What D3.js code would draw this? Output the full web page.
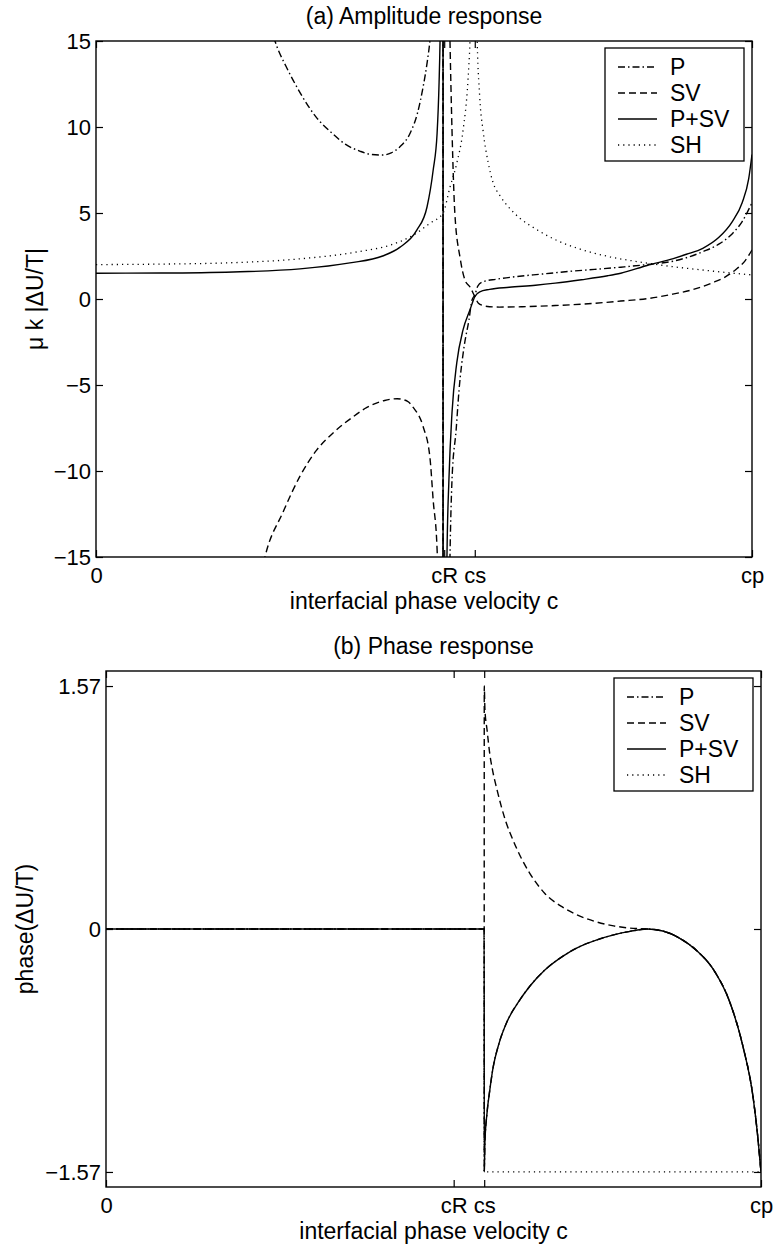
<!DOCTYPE html>
<html>
<head>
<meta charset="utf-8">
<style>
body { margin: 0; background: #fff; }
svg text { font-family: "Liberation Sans", Arial, Helvetica, sans-serif; fill: #000; }
</style>
</head>
<body>
<svg id="chart" width="777" height="1247"></svg>
<script src="https://cdn.jsdelivr.net/npm/d3@7/dist/d3.min.js"></script>
<script>
// velocities are in units of cp
var xTicks = [0, 0.5308, 0.5774, 1];
var xTickLabels = ["0", "cR", "cs", "cp"];
var seriesNames = ["P", "SV", "P+SV", "SH"];

var ampTicks = [-15, -10, -5, 0, 5, 10, 15];
var phaseTicks = [-1.5708, 0, 1.5708];
var phaseTickLabels = ["\u22121.57", "0", "1.57"];

// (a) amplitude  mu k |dU/T|  as [c, value]
var ampP = [[0.262, 16.0], [0.270, 15.3], [0.276, 14.65], [0.29, 13.5], [0.311, 12.0], [0.335, 10.6],
  [0.361, 9.6], [0.38, 9.0], [0.402, 8.6], [0.42, 8.4], [0.4375, 8.37], [0.45, 8.5], [0.463, 8.84],
  [0.479, 9.65], [0.49, 10.8], [0.4985, 12.3], [0.505, 13.8], [0.509, 15.0], [0.515, 18], [0.521, 24],
  [0.526, 40], [0.529, 90], [0.5291, -90], [0.531, -60], [0.535, -30], [0.5396, -15], [0.5427, -10.5],
  [0.549, -7.6], [0.5534, -5.3], [0.561, -2.8], [0.5686, -1.2], [0.5732, -0.06], [0.5777, 0.25],
  [0.582, 0.75], [0.59, 1.0], [0.61, 1.15], [0.64, 1.3], [0.68, 1.45], [0.72, 1.6], [0.76, 1.72],
  [0.80, 1.85], [0.84, 2.0], [0.88, 2.2], [0.90, 2.4], [0.925, 2.75], [0.95, 3.2], [0.97, 3.8],
  [0.985, 4.5], [1.0, 5.6]];

var ampSV = [[0.24, -18.5], [0.2576, -15], [0.285, -12.4], [0.311, -10.3], [0.336, -8.8], [0.361, -7.8],
  [0.39, -6.9], [0.413, -6.3], [0.44, -5.9], [0.459, -5.8], [0.475, -5.95], [0.4835, -6.3], [0.4985, -7.4],
  [0.509, -9.2], [0.514, -11.7], [0.52, -14.6], [0.524, -20], [0.527, -35], [0.529, -90], [0.5291, 90],
  [0.531, 45], [0.535, 25], [0.5396, 15], [0.5427, 9.8], [0.547, 5], [0.555, 2.4], [0.5625, 1.1],
  [0.570, 0.7], [0.5774, 0.15], [0.583, -0.25], [0.59, -0.38], [0.60, -0.45], [0.615, -0.47], [0.65, -0.45],
  [0.70, -0.38], [0.76, -0.25], [0.80, -0.12], [0.84, 0.02], [0.875, 0.25], [0.91, 0.55], [0.94, 0.95],
  [0.96, 1.3], [0.975, 1.7], [0.99, 2.25], [1.0, 2.85]];

var ampPSV = [[0, 1.5], [0.1, 1.51], [0.209, 1.57], [0.311, 1.75], [0.387, 2.1], [0.437, 2.5], [0.463, 3.0],
  [0.489, 4.0], [0.5046, 5.35], [0.514, 7.5], [0.52, 9.65], [0.523, 12.6], [0.5244, 14.9], [0.5265, 22],
  [0.529, 90], [0.5291, -90], [0.531, -40], [0.5335, -22], [0.535, -15], [0.538, -10.5], [0.5427, -6.6],
  [0.55, -3.7], [0.5595, -1.8], [0.570, -0.64], [0.5777, 0.15], [0.585, 0.42], [0.60, 0.56], [0.63, 0.68],
  [0.67, 0.8], [0.70, 0.92], [0.74, 1.12], [0.78, 1.35], [0.80, 1.5], [0.84, 1.95], [0.88, 2.35],
  [0.90, 2.6], [0.925, 2.95], [0.95, 3.6], [0.97, 4.5], [0.985, 5.6], [0.995, 7.0], [1.0, 8.4]];

var ampSH = [[0, 2.0], [0.1, 2.03], [0.2, 2.1], [0.3, 2.3], [0.4, 2.75], [0.45, 3.15], [0.483, 3.7],
  [0.509, 4.4], [0.529, 5.0], [0.5396, 6.5], [0.55, 7.9], [0.5595, 9.8], [0.567, 12.7], [0.570, 14.9],
  [0.5735, 20], [0.5774, 40], [0.5805, 16], [0.585, 11.7], [0.59, 9.8], [0.598, 7.9], [0.605, 6.8],
  [0.616, 6.0], [0.63, 5.3], [0.646, 4.7], [0.669, 4.1], [0.70, 3.45], [0.738, 2.9], [0.7835, 2.45],
  [0.829, 2.15], [0.875, 1.9], [0.921, 1.7], [0.966, 1.52], [1.0, 1.4]];

// (b) phase, as [c, radians]
var phaseFlat = [[0, 0], [0.5774, 0]];
var phaseArc = [[0.5775, -1.5708], [0.5785, -1.38], [0.5817, -1.19], [0.586, -1.04], [0.5908, -0.90],
  [0.60, -0.74], [0.6122, -0.60], [0.63, -0.47], [0.647, -0.37], [0.67, -0.265], [0.6977, -0.175],
  [0.72, -0.12], [0.7496, -0.07], [0.775, -0.038], [0.80, -0.015], [0.826, 0], [0.85, -0.013],
  [0.876, -0.06], [0.902, -0.14], [0.927, -0.26], [0.953, -0.48], [0.9725, -0.76], [0.988, -1.09],
  [0.995, -1.34], [1.0, -1.5708]];
var phaseSVDecay = [[0.5775, 1.5708], [0.5785, 1.42], [0.5817, 1.29], [0.586, 1.13], [0.59, 1.03],
  [0.597, 0.9], [0.61, 0.7], [0.6214, 0.575], [0.635, 0.45], [0.647, 0.36], [0.67, 0.23], [0.6977, 0.14],
  [0.72, 0.09], [0.7496, 0.045], [0.775, 0.02], [0.80, 0.006]];
var phaseSHStep = [[0.5775, -1.5708], [1.0, -1.5708]];

var phaseP = phaseFlat.concat(phaseArc);
var phaseSV = phaseFlat.concat(phaseSVDecay, phaseArc.filter(function(d){ return d[0] >= 0.826; }));
var phasePSV = phaseFlat.concat(phaseArc);
var phaseSH = phaseFlat.concat(phaseSHStep);

var dashes = ["7,3,1.5,3", "7,4", null, "1.2,4"];

var svg = d3.select("#chart");

function drawPanel(p) {
  var x = d3.scaleLinear().domain([0, 1]).range([p.left, p.right]);
  var y = d3.scaleLinear().domain(p.yDomain).range([p.bottom, p.top]);
  var g = svg.append("g");

  g.append("clipPath").attr("id", p.id + "clip")
    .append("rect").attr("x", p.left).attr("y", p.top)
    .attr("width", p.right - p.left).attr("height", p.bottom - p.top);

  var line = d3.line().x(function(d){ return x(d[0]); }).y(function(d){ return y(d[1]); })
    .curve(d3.curveMonotoneX);

  var lines = g.append("g").attr("clip-path", "url(#" + p.id + "clip)");
  p.series.forEach(function(s, i) {
    lines.append("path").attr("d", line(s))
      .attr("fill", "none").attr("stroke", "#000")
      .attr("stroke-width", i == 3 ? 1.3 : 1.4)
      .attr("stroke-dasharray", dashes[i]);
  });

  // axes, matlab style: ticks point inward on all four sides
  var bottom = d3.axisBottom(x).tickValues(xTicks).tickSize(-7).tickPadding(10)
    .tickFormat(function(d, i){ return xTickLabels[i]; });
  var top = d3.axisTop(x).tickValues(xTicks).tickSize(-7).tickFormat("");
  var left = d3.axisLeft(y).tickValues(p.yTicks).tickSize(-7).tickPadding(5)
    .tickFormat(function(d, i){ return p.yLabels[i]; });
  var right = d3.axisRight(y).tickValues(p.yTicks).tickSize(-7).tickFormat("");

  [[bottom, "translate(0," + p.bottom + ")"], [top, "translate(0," + p.top + ")"],
   [left, "translate(" + p.left + ",0)"], [right, "translate(" + p.right + ",0)"]].forEach(function(a) {
    var ax = g.append("g").attr("transform", a[1]).call(a[0]);
    ax.select(".domain").remove();
    ax.selectAll("line").attr("stroke", "#000").attr("stroke-width", 1.2);
    ax.selectAll("text").attr("font-size", 22).attr("fill", "#000")
      .attr("font-family", "'Liberation Sans', Arial, sans-serif");
  });

  g.append("rect").attr("x", p.left).attr("y", p.top)
    .attr("width", p.right - p.left).attr("height", p.bottom - p.top)
    .attr("fill", "none").attr("stroke", "#000").attr("stroke-width", 1.4);

  g.append("text").attr("x", (p.left + p.right) / 2).attr("y", p.top - 17)
    .attr("text-anchor", "middle").attr("font-size", 23).text(p.title);
  g.append("text").attr("x", (p.left + p.right) / 2).attr("y", p.bottom + 52)
    .attr("text-anchor", "middle").attr("font-size", 23).text("interfacial phase velocity c");
  g.append("text")
    .attr("transform", "translate(" + p.yLabelX + "," + (p.top + p.bottom) / 2 + ") rotate(-90)")
    .attr("text-anchor", "middle").attr("font-size", 23).text(p.yLabel);

  // legend
  var lx = p.right - 8 - 139, ly = p.top + 7;
  var leg = g.append("g");
  leg.append("rect").attr("x", lx).attr("y", ly).attr("width", 139).attr("height", 113)
    .attr("fill", "#fff").attr("stroke", "#000").attr("stroke-width", 1.3);
  seriesNames.forEach(function(name, i) {
    var ry = ly + 19 + i * 26;
    leg.append("line").attr("x1", lx + 13).attr("x2", lx + 52).attr("y1", ry).attr("y2", ry)
      .attr("stroke", "#000").attr("stroke-width", i == 3 ? 1.3 : 1.4)
      .attr("stroke-dasharray", dashes[i]);
    leg.append("text").attr("x", lx + 65).attr("y", ry).attr("dy", "0.35em")
      .attr("font-size", 23).text(name);
  });
}

drawPanel({
  id: "amp", left: 96, right: 752, top: 41, bottom: 557,
  yDomain: [-15, 15], yTicks: ampTicks,
  yLabels: ampTicks.map(function(v){ return v < 0 ? "\u2212" + (-v) : "" + v; }),
  series: [ampP, ampSV, ampPSV, ampSH],
  title: "(a) Amplitude response", yLabel: "\u03bc k |\u0394U/T|", yLabelX: 43
});

drawPanel({
  id: "phase", left: 106, right: 761, top: 671, bottom: 1187,
  yDomain: [-1.668, 1.668], yTicks: phaseTicks, yLabels: phaseTickLabels,
  series: [phaseP, phaseSV, phasePSV, phaseSH],
  title: "(b) Phase response", yLabel: "phase(\u0394U/T)", yLabelX: 33
});
</script>
</body>
</html>
